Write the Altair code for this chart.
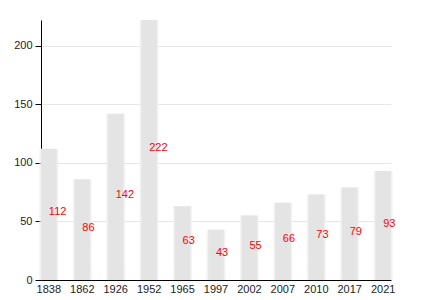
import altair as alt
import pandas as pd

years = ["1838", "1862", "1926", "1952", "1965", "1997", "2002", "2007", "2010", "2017", "2021"]
values = [112, 86, 142, 222, 63, 43, 55, 66, 73, 79, 93]

df = pd.DataFrame({"year": years, "value": values})
df["half"] = df["value"] / 2

font = "Liberation Sans"

x = alt.X("year:N", sort=years, title=None,
          scale=alt.Scale(paddingInner=0.53, paddingOuter=0),
          axis=alt.Axis(labelAngle=0, ticks=False, domainColor="black", labelColor="#222",
                        labelFont=font, labelFontSize=11, labelPadding=3, grid=False))
y = alt.Y("value:Q", title=None,
          scale=alt.Scale(domain=[0, 222], nice=False),
          axis=alt.Axis(values=[0, 50, 100, 150, 200], domainColor="black", tickColor="black",
                        tickSize=6, labelColor="#222", labelFont=font, labelFontSize=11,
                        gridColor="#e6e6e6", labelPadding=3))

base = alt.Chart(df)

shadow = base.mark_bar(color="#eeeeee", size=19, opacity=0.7).encode(x=x, y=y)
bars = base.mark_bar(color="#e4e4e4").encode(x=x, y=y)
labels = base.mark_text(color="red", align="left", baseline="alphabetic", dy=1,
                        font=font, fontSize=11).encode(
    x=alt.X("year:N", sort=years), y=alt.Y("half:Q"), text="value:Q")

chart = alt.layer(shadow, bars, labels).properties(
    width=350, height=260,
    autosize=alt.AutoSizeParams(type="none"),
    padding={"left": 41, "top": 20, "right": 39, "bottom": 20},
).configure_view(stroke=None)

chart.save("out.html", embed_options={"renderer": "svg", "actions": False})
